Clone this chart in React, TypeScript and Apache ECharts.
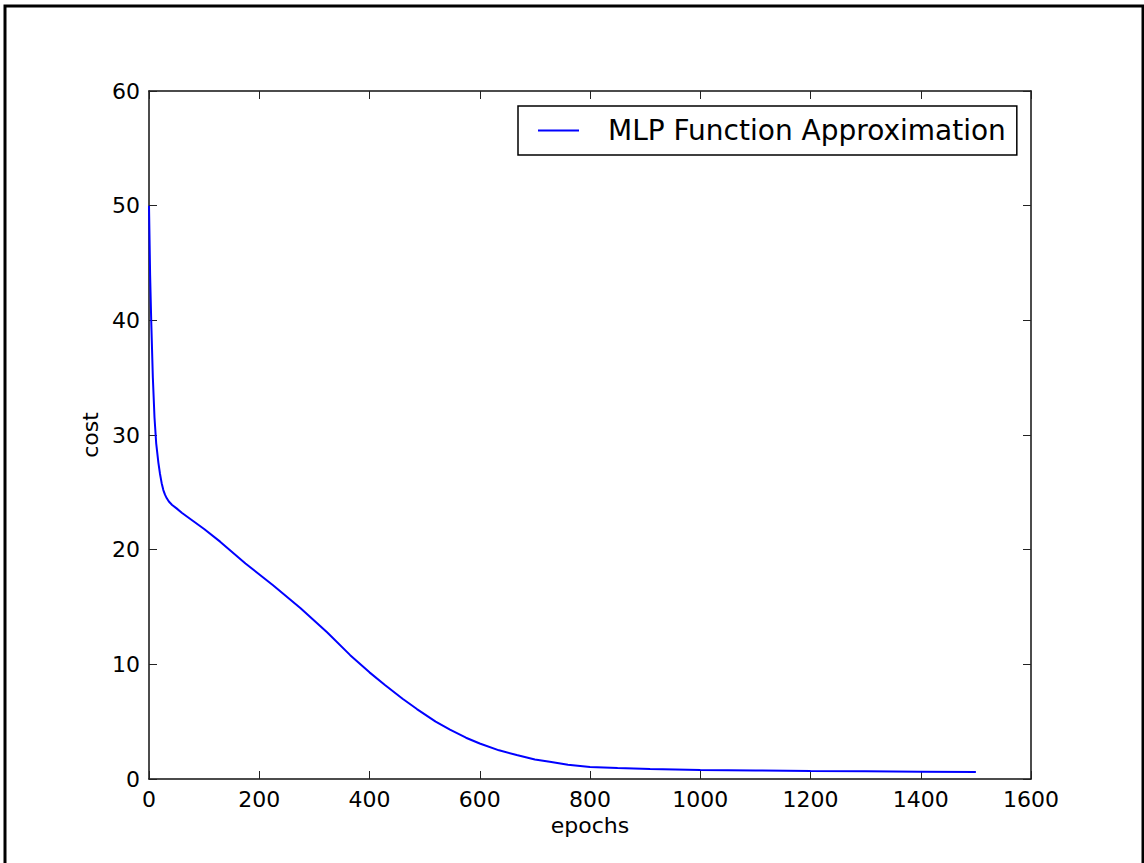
import React, { useEffect, useRef } from "react";
import * as echarts from "echarts";

const seriesName = "MLP Function Approximation";
const xTicks = [0, 200, 400, 600, 800, 1000, 1200, 1400, 1600];
const yTicks = [0, 10, 20, 30, 40, 50, 60];
const epochs = [0, 1, 2, 4, 7, 10, 13, 17, 20, 23, 26, 29, 32, 36, 42, 50, 60, 80, 100, 129, 175, 225, 275, 323, 365, 400, 428, 460, 486, 520, 546, 575, 600, 635, 667, 700, 727, 760, 800, 850, 909, 1000, 1100, 1200, 1300, 1400, 1500];
const cost = [50, 47, 44, 40, 35, 31.5, 29.3, 27.6, 26.6, 25.8, 25.2, 24.8, 24.5, 24.2, 23.9, 23.6, 23.2, 22.5, 21.8, 20.7, 18.8, 16.9, 14.9, 12.8, 10.8, 9.3, 8.2, 7.0, 6.1, 5.0, 4.3, 3.6, 3.1, 2.5, 2.1, 1.7, 1.5, 1.25, 1.05, 0.95, 0.87, 0.78, 0.74, 0.7, 0.67, 0.64, 0.62];

const FONT = "DejaVu Sans";

export default function App() {
  const ref = useRef<HTMLDivElement>(null);
  useEffect(() => {
    if (!ref.current) return;
    const chart = echarts.init(ref.current, undefined, { renderer: "svg" });
    const axisLine = { show: true, onZero: false, lineStyle: { color: "#111", width: 1.5 } };
    const axisTick = { show: true, inside: true, length: 8, lineStyle: { color: "#222", width: 1 } };
    const label = {
      fontSize: 22,
      fontFamily: FONT,
      color: "#000",
      formatter: (v: number) => String(v),
    };
    const xBase = {
      type: "value" as const,
      min: xTicks[0],
      max: xTicks[xTicks.length - 1],
      interval: xTicks[1] - xTicks[0],
      splitLine: { show: false },
      axisLine,
      axisTick,
    };
    const yBase = {
      type: "value" as const,
      min: yTicks[0],
      max: yTicks[yTicks.length - 1],
      interval: yTicks[1] - yTicks[0],
      splitLine: { show: false },
      axisLine,
      axisTick,
    };
    chart.setOption({
      animation: false,
      backgroundColor: "#fff",
      grid: { left: 149, right: 113, top: 91, bottom: 84, containLabel: false },
      graphic: [
        {
          type: "rect",
          shape: { x: 5, y: 6, width: 1138, height: 900 },
          style: { fill: "none", stroke: "#000", lineWidth: 3 },
          silent: true,
        },
      ],
      legend: {
        show: true,
        left: 518,
        top: 106,
        padding: [8, 11, 8, 20],
        borderColor: "#000",
        borderWidth: 1.5,
        itemWidth: 41,
        itemHeight: 14,
        textStyle: { fontSize: 28, fontFamily: FONT, color: "#000", padding: [0, 0, 0, 24], lineHeight: 33 },
        data: [{ name: seriesName, icon: "path://M0,7 L41,7 L41,9 L0,9 Z" }],
      },
      xAxis: [
        {
          ...xBase,
          position: "bottom",
          name: "epochs",
          nameLocation: "middle",
          nameGap: 32,
          nameTextStyle: { fontSize: 22, fontFamily: FONT, color: "#000" },
          axisLabel: { ...label, margin: 9 },
        },
        { ...xBase, position: "top", axisLabel: { show: false } },
      ],
      yAxis: [
        {
          ...yBase,
          position: "left",
          name: "cost",
          nameLocation: "middle",
          nameGap: 47,
          nameTextStyle: { fontSize: 22, fontFamily: FONT, color: "#000" },
          axisLabel: { ...label, margin: 9 },
        },
        { ...yBase, position: "right", axisLabel: { show: false } },
      ],
      series: [
        {
          name: seriesName,
          type: "line",
          xAxisIndex: 0,
          yAxisIndex: 0,
          data: epochs.map((e, i) => [e, cost[i]]),
          showSymbol: false,
          symbol: "none",
          smooth: false,
          lineStyle: { color: "#0000ff", width: 2 },
          itemStyle: { color: "#0000ff" },
        },
      ],
    });
    return () => chart.dispose();
  }, []);
  return (
    <div
      ref={ref}
      style={{ position: "fixed", left: 0, top: 0, width: 1144, height: 863, background: "#fff" }}
    />
  );
}
